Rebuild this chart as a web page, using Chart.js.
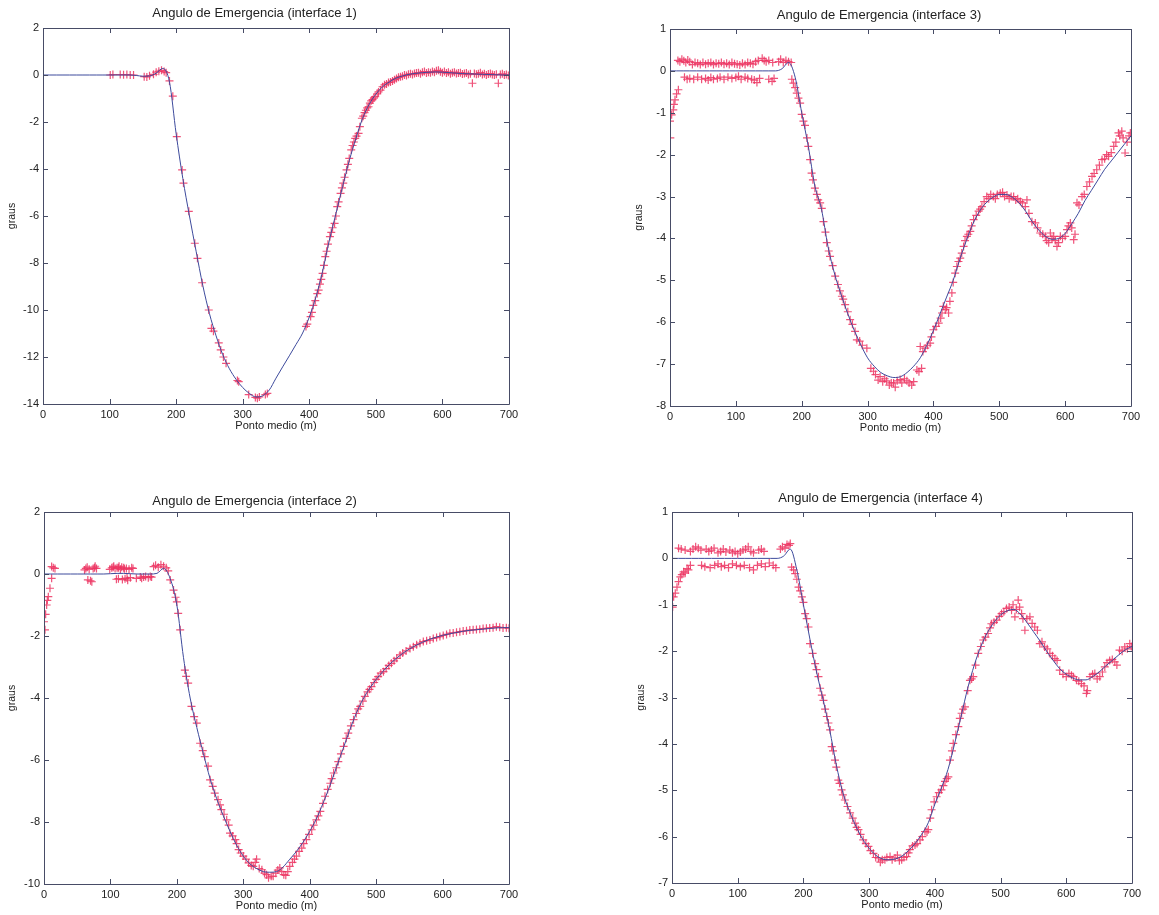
<!DOCTYPE html>
<html>
<head>
<meta charset="utf-8">
<script src="https://cdn.jsdelivr.net/npm/chart.js@4.4.1/dist/chart.umd.min.js"></script>
<style>
  body { margin: 0; background: #fff; width: 1159px; height: 915px; position: relative; overflow: hidden; }
  canvas { position: absolute; }
</style>
</head>
<body>
<canvas id="c1" width="530" height="440" style="left:0px;top:0px"></canvas>
<canvas id="c3" width="525" height="441" style="left:627px;top:1px"></canvas>
<canvas id="c2" width="530" height="436" style="left:0px;top:484px"></canvas>
<canvas id="c4" width="524" height="435" style="left:629px;top:484px"></canvas>
<script>
// x positions of the model curve (m)
const modelX = [0,10,20,30,40,50,60,70,80,90,100,110,120,130,140,150,160,170,180,190,200,210,220,230,240,250,260,270,280,290,300,310,320,330,340,350,360,370,380,390,400,410,420,430,440,450,460,470,480,490,500,510,520,530,540,550,560,570,580,590,600,610,620,630,640,650,660,670,680,690,700];

// interface 1
const model1 = [0,0,0,0,0,0,0,0,0,0,0,0,0,0,-0.02,-0.05,-0.04,0.08,0.28,-0.3,-2.5,-4.4,-6.0,-7.5,-8.95,-10.15,-11.1,-11.9,-12.5,-12.95,-13.3,-13.55,-13.7,-13.65,-13.4,-12.9,-12.42,-11.95,-11.47,-10.98,-10.3,-9.45,-8.35,-7.05,-5.9,-4.75,-3.65,-2.7,-1.85,-1.25,-0.82,-0.5,-0.3,-0.14,-0.04,0.03,0.07,0.1,0.12,0.13,0.12,0.1,0.08,0.06,0.05,0.04,0.03,0.02,0.01,0,0];
const dataX1 = [101,105,116,121,126,131,136,152,156,160,166,170,174,178,182,185,190,195,201,209,211,219,228,232,239,249,253,256,264,267,271,275,292,294,309,319,322,325,334,337,395,397,402,404,406,409,412,414,416,418,420,422,424,426,428,431,433,435,438,440,442,444,447,449,451,453,456,458,460,463,465,467,469,471,474,476,479,481,483,485,487,489,491,493,495,497,499,502,504,507,510,513,516,519,522,525,528,531,534,537,540,543,546,549,552,555,558,561,564,567,570,573,576,579,582,585,588,591,594,597,600,603,606,609,612,615,618,621,624,627,630,633,636,639,642,645,648,651,654,657,660,663,666,669,672,675,678,681,684,687,690,693,696,699];
const dataY1 = [0,0.02,0.02,0.01,0.02,0,0,-0.07,-0.08,-0.03,0.03,0.12,0.16,0.2,0.15,0.1,-0.25,-0.9,-2.62,-4.04,-4.6,-5.8,-7.16,-7.8,-8.84,-10.0,-10.78,-10.9,-11.4,-11.7,-12.0,-12.27,-13.0,-13.05,-13.6,-13.72,-13.75,-13.7,-13.6,-13.55,-10.7,-10.6,-10.28,-10.1,-9.8,-9.6,-9.3,-9.15,-8.9,-8.7,-8.44,-8.1,-7.73,-7.5,-7.2,-6.88,-6.7,-6.5,-6.31,-6.0,-5.6,-5.4,-5.04,-4.8,-4.6,-4.35,-4.04,-3.8,-3.55,-3.19,-3.0,-2.85,-2.7,-2.6,-2.48,-2.2,-1.84,-1.75,-1.6,-1.5,-1.4,-1.35,-1.2,-1.1,-1.05,-0.98,-0.92,-0.8,-0.72,-0.64,-0.5,-0.42,-0.38,-0.32,-0.3,-0.25,-0.2,-0.15,-0.1,-0.07,-0.05,0.0,-0.02,0.03,0.05,0.02,0.06,0.08,0.1,0.05,0.12,0.15,0.08,0.12,0.1,0.15,0.12,0.18,0.2,0.14,0.1,0.15,0.08,0.12,0.05,0.1,0.12,0.06,0.08,0.1,0.04,0.06,0.08,0.02,0.05,-0.35,0.06,0.03,0.05,0.1,0.02,0.05,0.0,0.04,0.06,0.02,0.0,0.03,-0.35,0.02,0.05,0.0,0.02,-0.02];

// interface 2
const model2 = [0,0,0,0,0,0,0,0,0,0,0.01,0.02,0.02,0.01,0,0,0,0.02,0.18,-0.15,-1.0,-2.7,-4.0,-4.95,-5.8,-6.6,-7.25,-7.8,-8.3,-8.75,-9.1,-9.35,-9.5,-9.6,-9.62,-9.6,-9.45,-9.2,-8.95,-8.65,-8.3,-7.9,-7.4,-6.85,-6.25,-5.65,-5.05,-4.5,-4.05,-3.7,-3.4,-3.15,-2.92,-2.73,-2.56,-2.42,-2.3,-2.2,-2.11,-2.04,-1.98,-1.93,-1.89,-1.85,-1.82,-1.8,-1.78,-1.76,-1.74,-1.73,-1.73];
const dataX2 = [0,1.5,2.5,4,5,6.5,9,11.5,11.5,14,16.5,61,63,65,66,68,70,72,74,76,77,79,99,102,104,105,107,109,110,112,112,113,115,117,118,120,121,122,124,125,126,128,130,132,134,139,145,147,150,153,157,160,162,165,168,172,176,180,184,187,190,195,198,200,202,205,212,214,217,222,226,230,235,239,242,247,250,254,257,262,265,267,271,275,278,280,284,288,290,293,296,300,304,308,312,315,318,320,324,328,332,335,338,342,345,349,352,355,358,361,364,367,370,374,377,380,384,388,391,395,399,403,406,410,413,416,420,423,427,431,433,436,440,443,447,451,455,458,462,466,470,473,476,480,483,487,490,493,497,500,503,507,511,515,519,523,527,531,536,540,545,551,556,561,566,571,576,581,586,591,596,601,606,611,616,621,626,631,636,641,646,651,656,661,666,671,676,681,686,691,696,700];
const dataY2 = [-1.54,-1.8,-1.3,-1.0,-0.85,-0.73,-0.46,-0.14,0.24,0.2,0.18,0.13,0.18,0.22,-0.19,0.15,-0.22,-0.25,0.18,0.2,0.25,0.18,0.15,0.2,0.22,0.25,0.18,-0.17,0.2,0.2,-0.15,0.25,0.15,0.22,-0.18,0.2,0.17,-0.15,0.18,-0.13,-0.2,0.15,-0.12,0.2,0.18,-0.14,-0.1,-0.14,-0.1,-0.08,-0.12,-0.08,-0.1,0.24,0.28,0.22,0.3,0.25,0.2,0.1,-0.19,-0.52,-0.75,-0.9,-1.27,-1.8,-3.1,-3.3,-3.52,-4.27,-4.6,-4.81,-5.46,-5.7,-5.89,-6.2,-6.64,-6.85,-7.07,-7.28,-7.45,-7.6,-7.75,-7.93,-8.1,-8.36,-8.45,-8.57,-8.7,-8.89,-9.0,-9.1,-9.2,-9.32,-9.4,-9.43,-9.3,-9.2,-9.5,-9.54,-9.65,-9.7,-9.8,-9.75,-9.75,-9.65,-9.55,-9.48,-9.6,-9.7,-9.72,-9.6,-9.43,-9.3,-9.2,-9.1,-8.95,-8.84,-8.7,-8.57,-8.4,-8.25,-8.1,-7.93,-7.8,-7.66,-7.4,-7.17,-6.95,-6.75,-6.6,-6.42,-6.25,-6.05,-5.8,-5.56,-5.3,-5.13,-4.9,-4.7,-4.5,-4.35,-4.27,-4.1,-3.95,-3.8,-3.72,-3.63,-3.5,-3.4,-3.31,-3.2,-3.15,-3.05,-2.95,-2.88,-2.8,-2.72,-2.61,-2.55,-2.48,-2.4,-2.35,-2.28,-2.23,-2.18,-2.15,-2.13,-2.08,-2.05,-2.02,-1.98,-1.95,-1.91,-1.9,-1.88,-1.86,-1.84,-1.83,-1.81,-1.8,-1.79,-1.78,-1.76,-1.75,-1.74,-1.73,-1.7,-1.72,-1.74,-1.73,-1.75];

// interface 3
const model3 = [0,0,0,0,0,0,0,0,0,0,0,0,0,0,0,0,0,0.05,0.2,-0.15,-1.0,-1.8,-2.75,-3.3,-4.2,-4.85,-5.35,-5.8,-6.2,-6.55,-6.85,-7.05,-7.2,-7.28,-7.32,-7.3,-7.2,-7.05,-6.85,-6.55,-6.2,-5.8,-5.4,-5.0,-4.5,-4.05,-3.65,-3.35,-3.15,-3.02,-2.95,-2.95,-3.02,-3.15,-3.35,-3.6,-3.8,-3.95,-4.02,-4.0,-3.88,-3.65,-3.4,-3.1,-2.85,-2.6,-2.35,-2.15,-1.95,-1.75,-1.55];
const dataX3 = [0,0.5,2.5,5,6,7.6,10,12.7,12,15,18,21,24,27,30,34,38,42,46,50,54,58,62,66,70,74,78,82,86,90,94,98,102,106,110,114,118,122,126,130,134,140,143,146,150,156,22,26,30,36,42,48,54,58,62,66,72,76,82,88,94,100,104,108,114,118,124,128,132,136,150,155,158,165,168,172,176,180,184,185,187.4,190,192.5,195,197.6,200,202.6,205,208,210,212.8,215,217,220,223,225,228,230.5,233,236,238,241,243,247,250.8,255,258,261,263,266,270,273.5,277,281,283.7,288,292,298.9,305,309,312,316,319,323,326,329,333,336,339.5,342,345,349.5,352,356,359.7,363,367,370,374.9,378,382,380,384,387.5,391,395,397,400,404,408,411,413,415,418,420,423,425,428,430,433,435.6,438,440.7,443,445.8,448,450.8,453,456,458,461,465,468.6,471,473.6,477,481,484,487,491,494,497,501.5,505,508,511.7,515,518,521.8,525,528,532,535,539.5,542,545,549.6,554.7,558,562,566,569.9,572,575,577.5,580,582.6,585,587.6,590,592.7,596,600,602.8,605,607.9,610,613,615,618,621,625.6,629,633,637,640.8,644,648,652,656,660,663,666,670,673.8,677,681,683,686,688,691,694,697,699];
const dataY3 = [-1.2,-1.6,-1.05,-0.93,-0.8,-0.69,-0.55,-0.45,0.25,0.22,0.28,0.24,0.2,0.26,0.22,0.15,0.2,0.18,0.15,0.2,0.16,0.18,0.2,0.15,0.18,0.17,0.2,0.16,0.18,0.15,0.2,0.17,0.16,0.14,0.18,0.15,0.2,0.18,0.16,0.22,0.25,0.3,0.25,0.22,0.25,0.2,-0.15,-0.2,-0.18,-0.2,-0.15,-0.2,-0.18,-0.22,-0.16,-0.2,-0.18,-0.15,-0.2,-0.15,-0.18,-0.16,-0.13,-0.2,-0.15,-0.18,-0.2,-0.22,-0.28,-0.18,-0.2,-0.25,-0.18,0.22,0.28,0.2,0.25,0.22,0.2,-0.2,-0.29,-0.4,-0.53,-0.65,-0.77,-1.04,-1.2,-1.3,-1.6,-1.8,-2.12,-2.44,-2.6,-2.8,-2.95,-3.08,-3.15,-3.28,-3.6,-3.85,-4.1,-4.3,-4.43,-4.65,-4.9,-5.1,-5.25,-5.38,-5.45,-5.58,-5.75,-5.94,-6.05,-6.22,-6.42,-6.45,-6.55,-6.62,-7.1,-7.17,-7.25,-7.38,-7.3,-7.42,-7.35,-7.4,-7.5,-7.45,-7.45,-7.55,-7.4,-7.37,-7.45,-7.35,-7.4,-7.45,-7.5,-7.42,-7.14,-7.18,-7.1,-6.58,-6.7,-6.62,-6.55,-6.5,-6.35,-6.18,-6.1,-6.02,-5.9,-5.78,-5.62,-5.7,-5.65,-5.78,-5.5,-5.3,-5.05,-4.83,-4.67,-4.55,-4.47,-4.35,-4.19,-4.05,-3.95,-3.9,-3.83,-3.7,-3.55,-3.45,-3.35,-3.3,-3.24,-3.12,-3.0,-3.05,-2.95,-3.0,-3.05,-2.95,-2.92,-2.9,-3.0,-2.96,-3.05,-3.0,-3.0,-3.08,-3.05,-3.12,-3.15,-3.24,-3.08,-3.4,-3.6,-3.63,-3.75,-3.87,-3.9,-3.95,-4.05,-4.1,-3.87,-4.0,-3.95,-4.05,-4.19,-4.1,-3.95,-4.0,-3.95,-3.79,-3.7,-3.63,-3.75,-4.03,-3.9,-3.15,-3.2,-3.0,-2.95,-2.76,-2.65,-2.52,-2.45,-2.36,-2.25,-2.12,-2.1,-2.0,-2.04,-1.95,-1.8,-1.7,-1.48,-1.55,-1.44,-1.6,-1.96,-1.7,-1.55,-1.48];

// interface 4
const model4 = [0,0,0,0,0,0,0,0,0,0,0,0,0,0,0,0,0,0.05,0.2,-0.25,-1.0,-1.75,-2.45,-3.05,-3.7,-4.45,-5.05,-5.45,-5.78,-6.05,-6.25,-6.4,-6.48,-6.5,-6.48,-6.42,-6.3,-6.15,-5.95,-5.7,-5.3,-4.95,-4.55,-4.0,-3.4,-2.8,-2.3,-1.9,-1.6,-1.38,-1.22,-1.13,-1.1,-1.2,-1.38,-1.58,-1.78,-2.0,-2.2,-2.38,-2.5,-2.58,-2.62,-2.62,-2.55,-2.45,-2.32,-2.2,-2.08,-1.97,-1.9];
const dataX4 = [1,2.5,5,7.6,10,12.7,15,17.7,20,22.8,25,28,10,14,20,28,32,36,40,44,52,56,60,64,70,74,78,82,88,92,96,100,104,108,112,116,120,124,132,136,140,45,50,58,65,70,75,80,86,92,98,104,110,118,124,130,136,142,148,154,158,165,168,172,175,178,180,182,185,187.4,190,192.5,195,197.6,200,202.6,205,207.7,210,214,217.8,220,222.9,225.4,228,230.5,233,235.6,238,240.7,243,245,248,250,253,255,258,260,263,267,271,275,278.6,281,283.7,287,291,295,298.9,302,306.5,310,314,317,320,324,327,331.8,335,339.4,343,346,349.5,353,357,360,362,366,369.8,373,377.4,381,385,388,390,393,395,399,402.7,406,410,413,415.4,418,420.5,423,426,428,432,435.7,438,440.7,443,445.8,450,453.4,456,458.5,462,466,470,473.6,477,481,484,486,490,494,498,501.5,505,509,513,516.7,519,521.8,524,526.8,529,532,534,537,540,544.6,548,552,556,559.7,563,567,571,575,579,582.6,586,590,595,600,604,607.9,611,615.5,619,623,627,630.7,632,636,640,643.4,647,651,655,658.6,662,666,670,673.8,677,681,685,689,693,696.6,699];
const dataY4 = [-1.05,-0.83,-0.75,-0.62,-0.5,-0.4,-0.35,-0.29,-0.32,-0.22,-0.25,-0.15,0.22,0.2,0.18,0.15,0.2,0.25,0.22,0.18,0.2,0.15,0.18,0.22,0.12,0.15,0.2,0.14,0.18,0.12,0.15,0.1,0.14,0.18,0.2,0.25,0.15,0.12,0.18,0.2,0.15,-0.15,-0.18,-0.2,-0.15,-0.12,-0.18,-0.15,-0.2,-0.12,-0.15,-0.18,-0.15,-0.2,-0.25,-0.15,-0.12,-0.18,-0.1,-0.15,-0.2,0.2,0.25,0.22,0.3,0.28,0.32,-0.19,-0.25,-0.33,-0.45,-0.62,-0.7,-0.83,-0.95,-1.19,-1.3,-1.48,-1.84,-2.05,-2.27,-2.4,-2.55,-2.8,-2.95,-3.06,-3.25,-3.41,-3.55,-3.7,-4.06,-4.15,-4.35,-4.5,-4.78,-4.85,-4.99,-5.1,-5.21,-5.35,-5.49,-5.6,-5.71,-5.8,-5.85,-5.95,-6.07,-6.15,-6.21,-6.3,-6.36,-6.45,-6.46,-6.55,-6.5,-6.5,-6.45,-6.43,-6.5,-6.46,-6.4,-6.52,-6.5,-6.45,-6.43,-6.35,-6.28,-6.2,-6.18,-6.15,-6.07,-6.0,-5.89,-5.9,-5.85,-5.6,-5.42,-5.25,-5.14,-5.05,-4.99,-4.9,-4.81,-4.75,-4.71,-4.35,-4.15,-3.99,-3.8,-3.63,-3.45,-3.34,-3.25,-3.2,-2.85,-2.63,-2.6,-2.55,-2.3,-2.05,-1.9,-1.76,-1.7,-1.62,-1.5,-1.41,-1.38,-1.33,-1.25,-1.19,-1.15,-1.08,-1.05,-1.12,-1.0,-1.26,-1.1,-0.9,-1.05,-1.19,-1.3,-1.55,-1.3,-1.26,-1.4,-1.48,-1.55,-1.84,-1.8,-1.91,-1.95,-2.05,-2.1,-2.16,-2.2,-2.41,-2.5,-2.55,-2.48,-2.52,-2.55,-2.63,-2.65,-2.7,-2.75,-2.91,-2.85,-2.55,-2.5,-2.48,-2.6,-2.55,-2.45,-2.34,-2.25,-2.2,-2.18,-2.23,-2.3,-1.98,-2.0,-1.91,-1.95,-1.84,-1.9];

const FONT = '"Liberation Sans", Arial, sans-serif';

// MATLAB-like box with inward ticks
const boxPlugin = {
  id: 'box',
  afterDatasetsDraw(chart) {
    const {ctx, chartArea: a, scales: {x, y}} = chart;
    ctx.save();
    ctx.strokeStyle = '#474c66';
    ctx.lineWidth = 1;
    ctx.beginPath();
    ctx.rect(a.left + 0.5, a.top + 0.5, a.right - a.left, a.bottom - a.top);
    x.ticks.forEach(t => {
      const px = Math.round(x.getPixelForValue(t.value)) + 0.5;
      ctx.moveTo(px, a.bottom); ctx.lineTo(px, a.bottom - 5);
      ctx.moveTo(px, a.top); ctx.lineTo(px, a.top + 5);
    });
    y.ticks.forEach(t => {
      const py = Math.round(y.getPixelForValue(t.value)) + 0.5;
      ctx.moveTo(a.left, py); ctx.lineTo(a.left + 5, py);
      ctx.moveTo(a.right, py); ctx.lineTo(a.right - 5, py);
    });
    ctx.stroke();
    ctx.restore();
  }
};

function makeChart(id, title, model, dx, dy, ymin, ymax, ystep, yw, titleTop) {
  new Chart(document.getElementById(id), {
    data: {
      datasets: [
        {
          type: 'line',
          data: modelX.map((v, i) => ({x: v, y: model[i]})),
          borderColor: '#3d4a9c',
          borderWidth: 1,
          pointRadius: 0,
          cubicInterpolationMode: 'monotone',
          order: 0
        },
        {
          type: 'scatter',
          data: dx.map((v, i) => ({x: v, y: dy[i]})),
          pointStyle: 'cross',
          pointRadius: 4,
          borderColor: 'rgba(236,52,98,0.85)',
          borderWidth: 1.2,
          order: 1
        }
      ]
    },
    options: {
      responsive: false,
      animation: false,
      layout: {padding: {left: 0, right: 21, top: 0, bottom: 0}},
      plugins: {
        legend: {display: false},
        tooltip: {enabled: false},
        title: {
          display: true, text: title, color: '#222',
          font: {family: FONT, size: 13, weight: 'normal'},
          padding: {top: titleTop, bottom: 12.4 - titleTop}
        }
      },
      scales: {
        x: {
          type: 'linear', min: 0, max: 700,
          ticks: {stepSize: 100, color: '#222', padding: 4, font: {family: FONT, size: 11}},
          grid: {display: false, drawTicks: false},
          border: {display: false},
          title: {display: true, text: 'Ponto medio (m)', color: '#222', font: {family: FONT, size: 11}, padding: {top: 0, bottom: 7}},
          afterFit: s => { s.height = 36; }
        },
        y: {
          type: 'linear', min: ymin, max: ymax,
          ticks: {stepSize: ystep, color: '#222', padding: 4, font: {family: FONT, size: 11}},
          grid: {display: false, drawTicks: false},
          border: {display: false},
          title: {display: true, text: 'graus', color: '#222', font: {family: FONT, size: 10.5}, padding: {top: 6, bottom: 0}},
          afterFit: s => { s.width = yw; }
        }
      }
    },
    plugins: [boxPlugin]
  });
}

makeChart('c1', 'Angulo de Emergencia (interface 1)', model1, dataX1, dataY1, -14, 2, 2, 43, 6);
makeChart('c2', 'Angulo de Emergencia (interface 2)', model2, dataX2, dataY2, -10, 2, 2, 44, 10);
makeChart('c3', 'Angulo de Emergencia (interface 3)', model3, dataX3, dataY3, -8, 1, 1, 43, 7);
makeChart('c4', 'Angulo de Emergencia (interface 4)', model4, dataX4, dataY4, -7, 1, 1, 43, 7);
</script>
</body>
</html>
